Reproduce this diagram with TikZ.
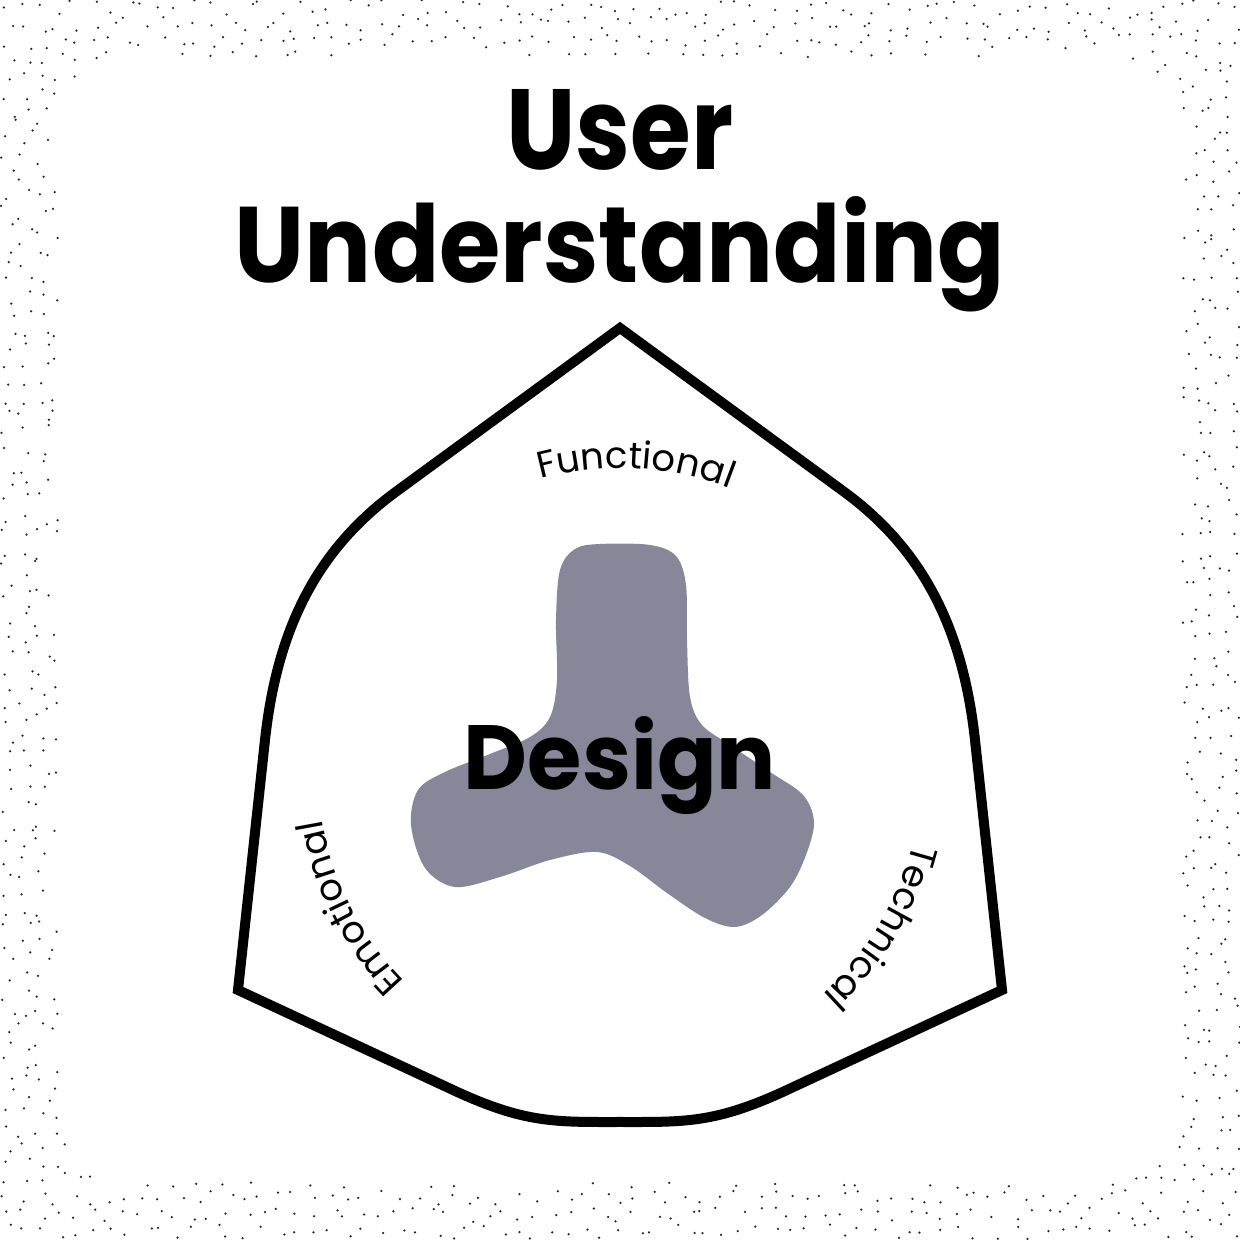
\documentclass[tikz,border=0pt]{standalone}
\usepackage{fontspec}
\setmainfont{Poppins}
\usetikzlibrary{decorations.text}
\definecolor{blobgrey}{RGB}{135,135,153}
\newcommand\lblfont{\fontsize{37pt}{37pt}\selectfont}
\tikzset{
  outline/.style={draw=black, line width=10pt, line join=miter},
  blobfill/.style={fill=blobgrey},
  dotmark/.style={fill=black!85},
  arclabel/.style={decorate, decoration={text along path, text align=center, text={|\lblfont|#1}}}
}
\begin{document}
\begin{tikzpicture}[x=1pt,y=1pt]
\useasboundingbox (0,0) rectangle (1240,1240);
\fill[white] (0,0) rectangle (1240,1240);
% stippled border (jittered grid)
\pgfmathsetseed{11}
\foreach \gx in {0,...,72}{
  \foreach \gy in {0,...,72}{
    \pgfmathsetmacro\px{8.5+\gx*17+(rnd-0.5)*15}
    \pgfmathsetmacro\py{8.5+\gy*17+(rnd-0.5)*15}
    \pgfmathsetmacro\ddx{max(abs(\px-620)-492,0)}
    \pgfmathsetmacro\ddy{max(abs(\py-620)-492,0)}
    \pgfmathsetmacro\dd{veclen(\ddx,\ddy)}
    \ifdim\dd pt>70pt \fill[dotmark] (\px,\py) circle (1.25); \fi
  }
}
% outline coordinates
\coordinate (C) at (620,470);
\coordinate (T) at (620,912);
\coordinate (P1L) at (397,749);
\coordinate (c1L) at (316,690);
\coordinate (c2L) at (277,610);
\coordinate (P2L) at (265,500);
\coordinate (BL) at (238,250);
\coordinate (B1) at (453,150);
\coordinate (bc1) at (525,116.5);
\coordinate (bc2) at (555,118);
\coordinate (BM) at (620,118);
\coordinate (bc3) at (685,118);
\coordinate (bc4) at (715,116.5);
\coordinate (B2) at (787,150);
\coordinate (BR) at (1002,250);
\coordinate (P2R) at (975,500);
\coordinate (c2R) at (963,610);
\coordinate (c1R) at (924,690);
\coordinate (P1R) at (843,749);
% blob
\fill[blobfill] plot[smooth cycle, tension=0.55] coordinates {
 (600,696) (650,695) (676,684) (686,655) (687,600) (690,543) (702,515)
 (730,495) (770,468) (803,445) (814,418) (806,385) (790,353) (762,325)
 (735,313) (705,322) (667,347) (630,374) (597,388) (550,380) (500,363)
 (455,353) (425,372) (411,415) (418,450) (445,468) (490,486) (530,503)
 (550,523) (557,560) (556,620) (560,670) (575,691)};
% main outline
\draw[outline] (T) -- (P1L) .. controls (c1L) and (c2L) .. (P2L) -- (BL) -- (B1)
  .. controls (bc1) and (bc2) .. (BM) .. controls (bc3) and (bc4) .. (B2) -- (BR)
  -- (P2R) .. controls (c2R) and (c1R) .. (P1R) -- cycle;
% titles
\node[anchor=base, inner sep=0] (user) at (620,1070) {\resizebox{227pt}{80pt}{\bfseries User}};
\node[anchor=base, inner sep=0] (underst) at (620,957) {\resizebox{770pt}{86pt}{\bfseries Understanding}};
\node[anchor=base, inner sep=0] (design) at (620,450) {\resizebox{312pt}{73pt}{\bfseries Design}};
% arc labels
\path[arclabel=Functional] (C) ++(127:302) arc[start angle=127, end angle=47, radius=302];
\path[arclabel=Emotional] (C) ++(247:302) arc[start angle=247, end angle=167, radius=302];
\path[arclabel=Technical] (C) ++(9:302) arc[start angle=9, end angle=-71, radius=302];
\end{tikzpicture}
\end{document}
